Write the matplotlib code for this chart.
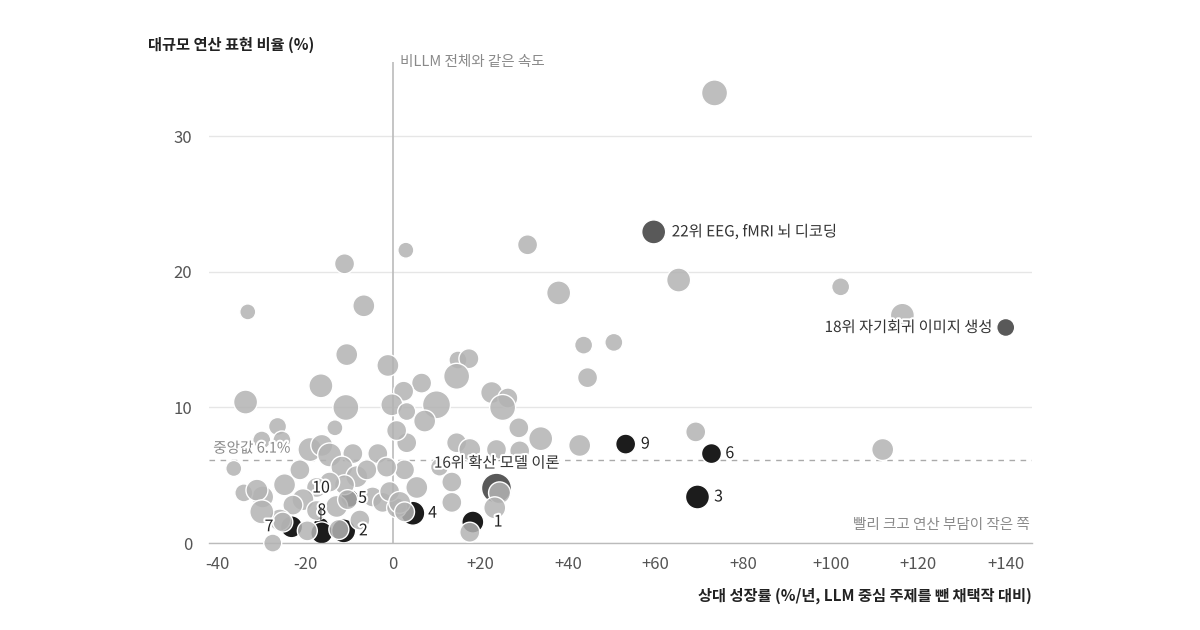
import matplotlib
matplotlib.use("Agg")
import matplotlib.pyplot as plt
import matplotlib.patheffects as pe

plt.rcParams['font.family'] = ['Noto Sans CJK KR', 'DejaVu Sans']

# 데이터: 회색 점 (상대 성장률, 대규모 연산 비율, 규모)
grey_x = [73.5, 3.0, 30.8, -11.0, 65.3, 102.3, 116.4, 37.9, -33.1, -6.6,
          43.6, 50.5, -10.5, -1.1, 14.9, 17.4, 14.6, 44.5, -16.4, -33.6,
          -10.7, 6.6, 2.5, -0.2, 10.0, 3.2, 7.3, 22.6, 26.3, 25.1,
          28.8, 33.8, 42.7, 69.2, 111.9, -26.3, -13.2, -29.9, -25.3, -18.9,
          -16.2, -14.4, -9.1, -3.4, -36.3, -24.7, -29.7, -34.0, -11.6, -8.2,
          -5.9, -4.6, -2.3, 0.9, -11.0, -14.4, -17.4, -20.5, -22.8, -25.8,
          -17.4, -12.8, -10.3, -12.3, -19.5, -27.4, -31.0, -7.5, -29.9, -25.1,
          3.2, 2.7, 5.5, -0.7, 1.6, 2.7, 14.6, 17.6, 10.7, 13.5,
          13.5, 23.7, 24.4, 23.3, 17.6, 0.9, -1.4, -21.2, 29.0]
grey_y = [33.2, 21.6, 22.0, 20.6, 19.4, 18.9, 16.8, 18.45, 17.05, 17.5,
          14.6, 14.8, 13.9, 13.1, 13.5, 13.6, 12.3, 12.2, 11.6, 10.4,
          10.0, 11.8, 11.2, 10.2, 10.2, 9.7, 9.0, 11.1, 10.7, 10.0,
          8.5, 7.7, 7.2, 8.2, 6.9, 8.6, 8.5, 7.6, 7.6, 6.9,
          7.2, 6.5, 6.6, 6.6, 5.5, 4.3, 3.4, 3.7, 5.6, 4.9,
          5.4, 3.4, 3.0, 2.6, 4.3, 4.5, 4.1, 3.2, 2.8, 1.7,
          2.4, 2.7, 3.2, 1.0, 0.9, 0.0, 3.9, 1.7, 2.3, 1.55,
          7.4, 5.4, 4.1, 3.8, 3.0, 2.3, 7.4, 6.9, 5.6, 4.5,
          3.0, 6.9, 3.7, 2.6, 0.8, 8.3, 5.6, 5.4, 6.8]
grey_n = [169, 64, 100, 100, 144, 81, 144, 144, 64, 121,
          81, 81, 121, 121, 81, 100, 169, 100, 144, 144,
          169, 100, 100, 121, 196, 81, 121, 121, 100, 169,
          100, 144, 121, 100, 121, 81, 64, 81, 81, 144,
          121, 144, 100, 100, 64, 121, 121, 81, 121, 121,
          100, 100, 100, 100, 100, 100, 100, 121, 100, 121,
          100, 121, 100, 100, 100, 81, 121, 100, 144, 100,
          100, 100, 121, 100, 121, 100, 100, 121, 81, 100,
          100, 100, 121, 121, 100, 100, 100, 100, 100]

# 상위 10개 주제 (번호 순)
top_labels = ['1', '2', '3', '4', '5', '6', '7', '8', '9', '10']
top_x = [18.3, -11.2, 69.6, 4.6, -9.8, 72.8, -23.1, -16.2, 53.2, -16.4]
top_y = [1.55, 0.9, 3.4, 2.2, 3.3, 6.6, 1.2, 0.75, 7.3, 1.3]
top_n = [121, 144, 144, 144, 81, 100, 121, 121, 100, 64]

# 이름 붙은 주제
named_labels = ['22위 EEG, fMRI 뇌 디코딩', '18위 자기회귀 이미지 생성', '16위 확산 모델 이론']
named_x = [59.6, 140.0, 23.7]
named_y = [22.95, 15.9, 4.05]
named_n = [144, 81, 225]

median_y = 6.1

GREY = (0.70, 0.70, 0.70, 0.85)
BLACK = '#1c1c1c'
DARK = '#595959'
TXT = '#333333'
MUTED = '#8a8a8a'
halo = [pe.withStroke(linewidth=3, foreground='white')]

def area(n):
    return [v * 2.07 for v in n]

fig = plt.figure(figsize=(12, 6.3), dpi=100)
ax = fig.add_axes([0.174, 0.138, 0.686, 0.764])
ax.set_xlim(-42, 146)
ax.set_ylim(0, 35.5)

for sp in ['top', 'right', 'left']:
    ax.spines[sp].set_visible(False)
ax.spines['bottom'].set_color('#bbbbbb')
ax.spines['bottom'].set_linewidth(1.0)

ax.set_yticks([0, 10, 20, 30])
ax.set_xticks([-40, -20, 0, 20, 40, 60, 80, 100, 120, 140])
ax.set_xticklabels(['-40', '-20', '0', '+20', '+40', '+60', '+80', '+100', '+120', '+140'])
ax.tick_params(length=0, labelsize=12, labelcolor='#555555')
ax.tick_params(axis='x', pad=9)
ax.tick_params(axis='y', pad=12)
ax.grid(axis='y', color='#e6e6e6', linewidth=1.0)
ax.set_axisbelow(True)

# 기준선
ax.axvline(0, color='#bbbbbb', linewidth=1.2, zorder=1)
ax.axhline(median_y, color='#aaaaaa', linewidth=1.0, linestyle=(0, (4, 4)), zorder=1)
ax.text(1.6, 35.5, '비LLM 전체와 같은 속도', fontsize=10.5, color=MUTED, ha='left', va='center')
ax.text(-41, median_y + 0.35, '중앙값 6.1%', fontsize=10.5, color=MUTED, ha='left', va='bottom',
        path_effects=halo, zorder=6)
ax.text(145.5, 1.3, '빨리 크고 연산 부담이 작은 쪽', fontsize=10.5, color=MUTED, ha='right', va='center')

# 점 그리기: 강조 점 아래, 회색 점 위
ax.scatter(named_x, named_y, s=area(named_n), color=DARK, edgecolor='white', linewidth=1.0,
           zorder=2, clip_on=False)
ax.scatter(top_x[::-1], top_y[::-1], s=area(top_n[::-1]), color=BLACK, edgecolor='white',
           linewidth=1.0, zorder=2, clip_on=False)
ax.scatter(grey_x, grey_y, s=area(grey_n), color=GREY, edgecolor='white', linewidth=1.0,
           zorder=3, clip_on=False)

# 번호 라벨 오프셋 (points)
offsets = {'1': (15, 0, 'left'), '2': (11, 0, 'left'), '3': (12, 0, 'left'), '4': (11, 0, 'left'),
           '5': (6, 0, 'left'), '6': (10, 0, 'left'), '7': (-13, 0, 'right'), '8': (0, 16, 'center'),
           '9': (11, 0, 'left')}
for lab, x, y in zip(top_labels, top_x, top_y):
    if lab == '10':
        ax.annotate(lab, xy=(x, 1.7), xytext=(0, 23), textcoords='offset points',
                    ha='center', va='center', fontsize=11.5, color='#222222', zorder=6,
                    path_effects=halo,
                    arrowprops=dict(arrowstyle='-', color='#444444', lw=0.8, shrinkA=6, shrinkB=0))
        continue
    dx, dy, ha = offsets[lab]
    ax.annotate(lab, xy=(x, y), xytext=(dx, dy), textcoords='offset points', ha=ha, va='center',
                fontsize=11.5, color='#222222', zorder=6, path_effects=halo)

named_off = [(13, 0, 'left'), (-10, 0, 'right'), (0, 18, 'center')]
for lab, x, y, (dx, dy, ha) in zip(named_labels, named_x, named_y, named_off):
    ax.annotate(lab, xy=(x, y), xytext=(dx, dy), textcoords='offset points', ha=ha, va='center',
                fontsize=11, color=TXT, zorder=6, path_effects=halo)

fig.text(0.123, 0.929, '대규모 연산 표현 비율 (%)', fontsize=11, fontweight='bold', color='#222222',
         ha='left', va='center')
fig.text(0.86, 0.055, '상대 성장률 (%/년, LLM 중심 주제를 뺀 채택작 대비)', fontsize=11,
         fontweight='bold', color='#222222', ha='right', va='center')

fig.savefig('out.png', dpi=100, facecolor='white')
